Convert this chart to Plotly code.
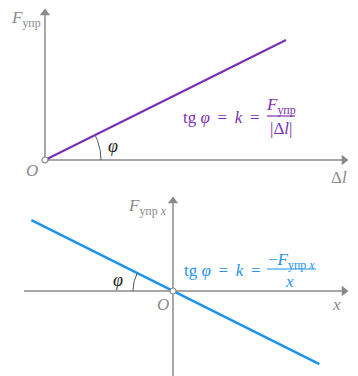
import numpy as np
import plotly.graph_objects as go

# ---- data ----
top_dl = [0, 10]          # Δl
top_F = [0, 5]            # F_упр
bot_x = [-5.9, 6.1]       # x
bot_F = [2.95, -3.05]     # F_упр x

W, H = 358, 376
GRAY = "#8a8a8a"
PURPLE = "#7a2fb0"
BLUE = "#1e93ee"
FONT = "Liberation Serif"

# axes scales (pixel per unit) and ranges
top_xr = [-45 / 24.1, (W - 45) / 24.1]
top_yr = [-30 / 24, 160 / 24]
bot_xr = [-173 / 24, 185 / 24]
bot_yr = [-85 / 24, 101 / 24]
split = 1 - 190 / H

fig = go.Figure()


def axis_arrow(x0, y0, x1, y1, xa, ya, sym):
    fig.add_trace(go.Scatter(x=[x0, x1], y=[y0, y1], mode="lines", line=dict(color=GRAY, width=1.5),
                             xaxis=xa, yaxis=ya, hoverinfo="skip"))
    fig.add_trace(go.Scatter(x=[x1], y=[y1], mode="markers",
                             marker=dict(symbol=sym, size=9, color=GRAY, line=dict(width=0)),
                             xaxis=xa, yaxis=ya, hoverinfo="skip"))


# axes
axis_arrow(0, 0, (344 - 45) / 24.1, 0, "x", "y", "triangle-right")
axis_arrow(0, 0, 0, 147 / 24, "x", "y", "triangle-up")
axis_arrow(-149 / 24, 0, 171 / 24, 0, "x2", "y2", "triangle-right")
axis_arrow(0, -85 / 24, 0, 90 / 24, "x2", "y2", "triangle-up")

# lines
fig.add_trace(go.Scatter(x=top_dl, y=top_F, mode="lines", line=dict(color=PURPLE, width=2),
                         xaxis="x", yaxis="y", hoverinfo="skip"))
fig.add_trace(go.Scatter(x=bot_x, y=bot_F, mode="lines", line=dict(color=BLUE, width=2.5),
                         xaxis="x2", yaxis="y2", hoverinfo="skip"))

# angle arcs (decoration)
phi = np.arctan(0.5)
t = np.linspace(0, phi, 30)
fig.add_trace(go.Scatter(x=56 / 24.1 * np.cos(t), y=56 / 24 * np.sin(t), mode="lines",
                         line=dict(color="#555555", width=1), xaxis="x", yaxis="y", hoverinfo="skip"))
t2 = np.linspace(np.pi - phi, np.pi, 30)
fig.add_trace(go.Scatter(x=40 / 24 * np.cos(t2), y=40 / 24 * np.sin(t2), mode="lines",
                         line=dict(color="#555555", width=1), xaxis="x2", yaxis="y2", hoverinfo="skip"))

# origin markers
for xa, ya in (("x", "y"), ("x2", "y2")):
    fig.add_trace(go.Scatter(x=[0], y=[0], mode="markers",
                             marker=dict(size=6, color="white", line=dict(color=GRAY, width=1.2)),
                             xaxis=xa, yaxis=ya, hoverinfo="skip"))

ann = []


def txt(px, py, text, color=GRAY, size=17, xanchor="center"):
    ann.append(dict(x=px / W, y=1 - py / H, xref="paper", yref="paper", text=text,
                    showarrow=False, xanchor=xanchor, yanchor="middle",
                    font=dict(family=FONT, size=size, color=color)))


SP = "\u00a0\u2009"
FORMULA = "tg <i>φ</i>" + SP + "=" + SP + "<i>k</i>" + SP + "="

# top labels
txt(26, 19, "<i>F</i><sub>упр</sub>")
txt(32, 170, "<i>O</i>")
txt(339, 177, "Δ<i>l</i>")
txt(113, 146, "<i>φ</i>", color="#222222", size=18)
txt(262, 117, FORMULA, color=PURPLE, xanchor="right")
txt(281, 106, "<i>F</i><sub>упр</sub>", color=PURPLE)
txt(281, 128, "|Δ<i>l</i>|", color=PURPLE)

# bottom labels
txt(147, 207, "<i>F</i><sub>упр <i>x</i></sub>")
txt(163, 304, "<i>O</i>")
txt(336, 304, "<i>x</i>")
txt(118, 280, "<i>φ</i>", color="#222222", size=18)
txt(263, 270, FORMULA, color=BLUE, xanchor="right")
txt(291, 261, "−<i>F</i><sub>упр <i>x</i></sub>", color=BLUE)
txt(289, 281, "<i>x</i>", color=BLUE)

shapes = [
    dict(type="line", xref="paper", yref="paper", x0=267 / W, x1=295 / W,
         y0=1 - 116 / H, y1=1 - 116 / H, line=dict(color=PURPLE, width=1.2)),
    dict(type="line", xref="paper", yref="paper", x0=267 / W, x1=316 / W,
         y0=1 - 269 / H, y1=1 - 269 / H, line=dict(color=BLUE, width=1.2)),
]

ax_common = dict(visible=False, fixedrange=True)
fig.update_layout(
    width=W, height=H, margin=dict(l=0, r=0, t=0, b=0),
    paper_bgcolor="white", plot_bgcolor="white", showlegend=False,
    xaxis=dict(domain=[0, 1], range=top_xr, anchor="y", **ax_common),
    yaxis=dict(domain=[split, 1], range=top_yr, anchor="x", **ax_common),
    xaxis2=dict(domain=[0, 1], range=bot_xr, anchor="y2", **ax_common),
    yaxis2=dict(domain=[0, split], range=bot_yr, anchor="x2", **ax_common),
    annotations=ann, shapes=shapes,
)

fig.write_html("out.html", config={"displayModeBar": False},
               post_script="document.body.style.margin='0';document.body.style.overflow='hidden';")
